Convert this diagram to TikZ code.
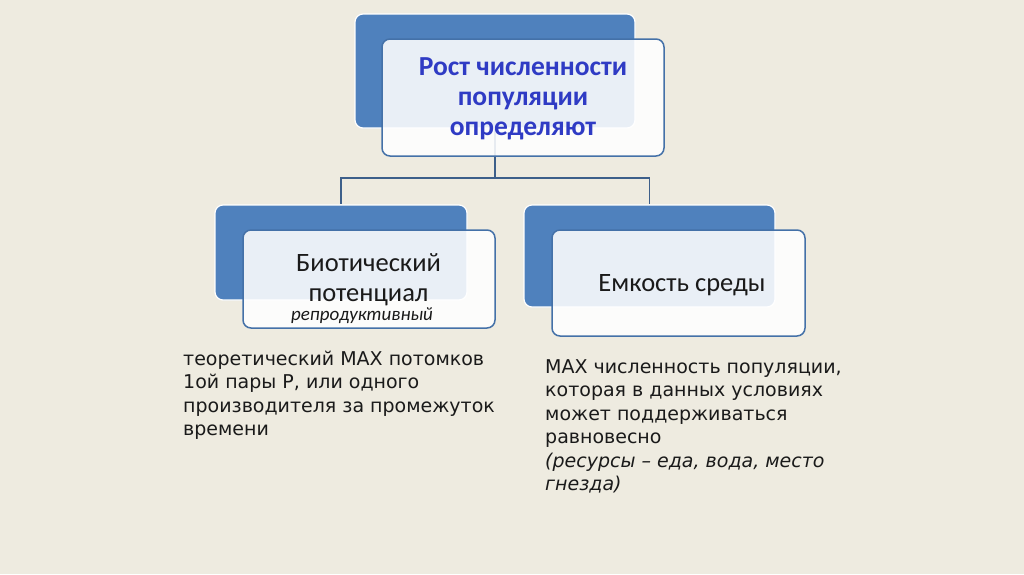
\documentclass[tikz,border=0pt]{standalone}
\usepackage{fontspec}
\setmainfont{Carlito}
\newfontfamily\bodyfont{DejaVu Sans}
\definecolor{bg}{HTML}{EEEBE0}
\definecolor{darkbox}{HTML}{4F81BD}
\definecolor{frameblue}{HTML}{4471A8}
\definecolor{linkblue}{HTML}{3D5F8A}
\definecolor{titleblue}{HTML}{2F3BC4}
\definecolor{txt}{HTML}{1A1A1A}
\begin{document}
\begin{tikzpicture}[x=1pt,y=-1pt,
  backbox/.style={fill=darkbox, draw=white, line width=1.2pt, rounded corners=8pt, inner sep=0pt},
  frontbox/.style={fill=white, fill opacity=0.88, draw=frameblue, line width=1.5pt, rounded corners=8pt, inner sep=0pt},
  link/.style={draw=linkblue, line width=1.5pt},
  boxtext/.style={text=txt, font=\fontsize{26.5}{30}\selectfont, align=center, inner sep=0pt},
  paratext/.style={text=txt, font=\bodyfont\fontsize{19}{23.5}\selectfont, align=left, anchor=base west, inner sep=0pt}]
\fill[bg] (0,0) rectangle (1024,574);
\useasboundingbox (0,0) rectangle (1024,574);
% back boxes
\node[backbox, minimum width=280pt, minimum height=114pt] (tback) at (495,71) {};
\node[backbox, minimum width=252pt, minimum height=95pt] (lback) at (341,252.5) {};
\node[backbox, minimum width=251pt, minimum height=102pt] (rback) at (649.5,256) {};
% connectors
\coordinate (j) at (495,178);
\draw[link] (tback.south) -- (j);
\draw[link] (j) -| (lback.north);
\draw[link] (j) -| (rback.north);
% front boxes
\node[frontbox, minimum width=282pt, minimum height=117pt] (tfront) at (523,97.5) {};
\node[frontbox, minimum width=252pt, minimum height=98pt] (lfront) at (369,279) {};
\node[frontbox, minimum width=253pt, minimum height=106pt] (rfront) at (678.5,283) {};
% texts
\node[boxtext, text=titleblue, font=\bfseries\fontsize{27.5}{30}\selectfont] (ttext) at (523,99) {Рост численности\\популяции\\определяют};
\node[boxtext] (ltext) at (368.5,280) {Биотический\\потенциал};
\node[text=txt, font=\itshape\fontsize{19}{20}\selectfont, inner sep=0pt, anchor=base] (lsub) at (362,320.5) {репродуктивный};
\node[boxtext] (rtext) at (682,285) {Емкость среды};
\node[paratext] (lpara) at (183,435.5) {теоретический МАХ потомков\\1ой пары Р, или одного\\производителя за промежуток\\времени};
\node[paratext] (rpara) at (545,490.5) {МАХ численность популяции,\\которая в данных условиях\\может поддерживаться\\равновесно\\\textit{(ресурсы – еда, вода, место}\\\textit{гнезда)}};
\end{tikzpicture}
\end{document}
